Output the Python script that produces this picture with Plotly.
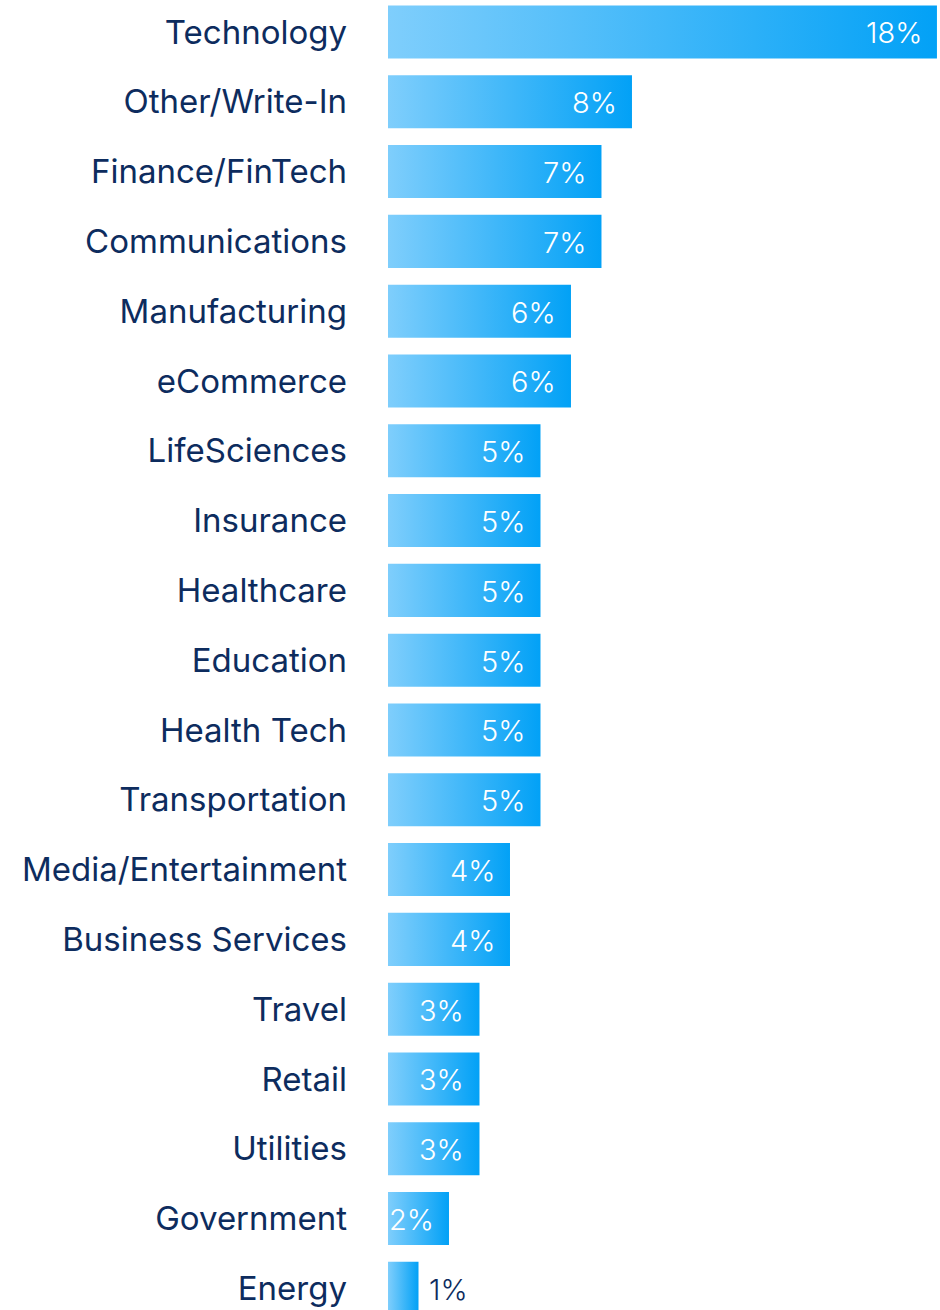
import plotly.graph_objects as go

# Share of respondents by industry (%)
industries = [
    "Technology", "Other/Write-In", "Finance/FinTech", "Communications",
    "Manufacturing", "eCommerce", "LifeSciences", "Insurance", "Healthcare",
    "Education", "Health Tech", "Transportation", "Media/Entertainment",
    "Business Services", "Travel", "Retail", "Utilities", "Government", "Energy",
]
shares = [18, 8, 7, 7, 6, 6, 5, 5, 5, 5, 5, 5, 4, 4, 3, 3, 3, 2, 1]

NAVY = "#0d2c5e"
GRAD = [[0.0, "#7fcefc"], [1.0, "#02a1f6"]]
FONT = "Inter, Open Sans, sans-serif"
HALF = 0.38  # half bar thickness in category units

fig = go.Figure()

for i, v in enumerate(shares):
    fig.add_trace(go.Scatter(
        x=[0, v, v, 0, 0],
        y=[i - HALF, i - HALF, i + HALF, i + HALF, i - HALF],
        mode="lines",
        line=dict(width=0),
        fill="toself",
        fillgradient=dict(type="horizontal", colorscale=GRAD),
        hoverinfo="skip",
        showlegend=False,
    ))
    inside = v >= 2
    fig.add_annotation(
        x=v, y=i, xref="x", yref="y",
        text=f"{v}%",
        showarrow=False,
        xanchor="right" if inside else "left",
        xshift=-13 if inside else 8,
        yshift=-1,
        font=dict(family=FONT, size=29, color="white" if inside else NAVY, weight=300),
    )

fig.update_layout(
    width=940, height=1310,
    margin=dict(l=388, r=0, t=0, b=0),
    paper_bgcolor="white", plot_bgcolor="white",
    xaxis=dict(range=[0, 18.1], visible=False, fixedrange=True),
    yaxis=dict(
        range=[18.31, -0.458],
        tickvals=list(range(len(industries))),
        ticktext=industries,
        showgrid=False, zeroline=False, showline=False,
        ticks="", ticklabelstandoff=40,
        tickfont=dict(family=FONT, size=33, color=NAVY),
        automargin=False,
    ),
)

fig.write_html("out.html")
